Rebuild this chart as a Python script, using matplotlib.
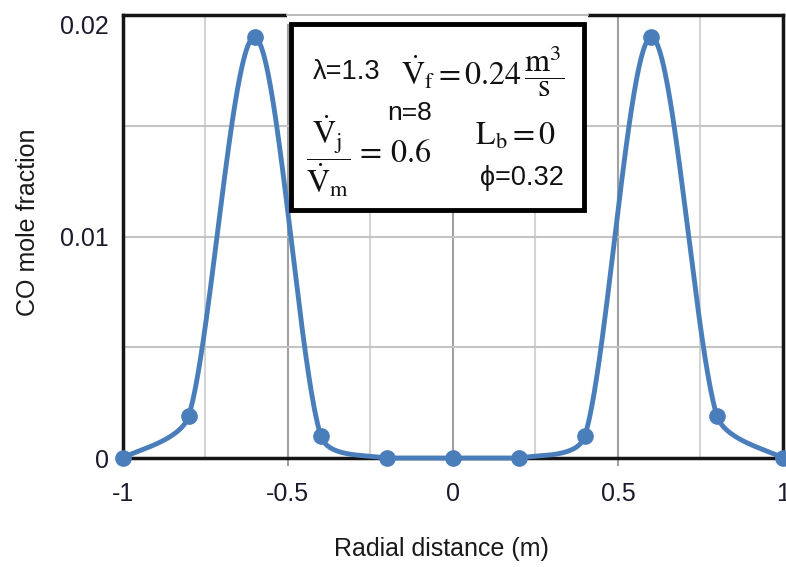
import numpy as np
import matplotlib
matplotlib.use("Agg")
import matplotlib.pyplot as plt
from matplotlib.patches import Rectangle
from matplotlib.lines import Line2D
from matplotlib.ticker import FixedLocator, FixedFormatter

plt.rcParams['font.family'] = ['Liberation Sans', 'DejaVu Sans']
plt.rcParams['mathtext.fontset'] = 'stix'
plt.rcParams['axes.unicode_minus'] = False

# CO mole fraction across the radial profile
radial_distance = [-1.0, -0.8, -0.6, -0.4, -0.2, 0.0, 0.2, 0.4, 0.6, 0.8, 1.0]
co_fraction = [0.0, 0.0019, 0.0190, 0.0010, 0.0, 0.0, 0.0, 0.0010, 0.0190, 0.0019, 0.0]

x_ticks = [-1, -0.5, 0, 0.5, 1]
x_tick_labels = ['-1', '-0.5', '0', '0.5', '1']
x_minor_ticks = [-0.75, -0.25, 0.25, 0.75]
y_ticks = [0, 0.01, 0.02]
y_tick_labels = ['0', '0.01', '0.02']
y_minor_ticks = [0.005, 0.015]

LINE_COLOR = '#4a7ebb'
W, H = 786, 567


def fx(px):
    return px / W


def fy(py):
    return 1 - py / H


fig = plt.figure(figsize=(W / 100, H / 100), dpi=100)
ax = fig.add_axes([fx(122.7), fy(458), (783 - 122.7) / W, (458 - 15) / H])
ax.set_xlim(-1, 1)
ax.set_ylim(0, 0.02)


def smooth_curve(ax, xs, ys, n=80):
    """Bezier smoothing through the points (display space), handles limited by chord."""
    pts = ax.transData.transform(np.column_stack([xs, ys]))
    m = len(pts)
    pieces = [pts[:1]]
    t = np.linspace(0, 1, n)[1:, None]
    for i in range(m - 1):
        p0 = pts[i - 1] if i > 0 else pts[i]
        p1, p2 = pts[i], pts[i + 1]
        p3 = pts[i + 2] if i + 2 < m else pts[i + 1]
        chord = np.hypot(*(p2 - p1))
        h1 = (p2 - p0) / 6.0
        h2 = (p3 - p1) / 6.0
        for h in (h1, h2):
            L = np.hypot(*h)
            if L > chord / 3.0:
                h *= (chord / 3.0) / L
        c1 = p1 + h1
        c2 = p2 - h2
        seg = ((1 - t) ** 3) * p1 + 3 * ((1 - t) ** 2) * t * c1 \
            + 3 * (1 - t) * (t ** 2) * c2 + (t ** 3) * p2
        pieces.append(seg)
    path = np.vstack(pieces)
    data = ax.transData.inverted().transform(path)
    return data[:, 0], np.maximum(data[:, 1], ax.get_ylim()[0])


sx, sy = smooth_curve(ax, radial_distance, co_fraction)
ax.plot(sx, sy, color=LINE_COLOR, lw=3.5, solid_capstyle='round',
        zorder=3, clip_on=False)
ax.plot(radial_distance, co_fraction, 'o', color=LINE_COLOR, ms=11,
        mec=LINE_COLOR, zorder=4, clip_on=False)

# ticks and grid
ax.xaxis.set_major_locator(FixedLocator(x_ticks))
ax.xaxis.set_major_formatter(FixedFormatter(x_tick_labels))
ax.xaxis.set_minor_locator(FixedLocator(x_minor_ticks))
ax.yaxis.set_major_locator(FixedLocator(y_ticks))
ax.yaxis.set_major_formatter(FixedFormatter(y_tick_labels))
ax.yaxis.set_minor_locator(FixedLocator(y_minor_ticks))

ax.tick_params(axis='x', which='major', direction='out', length=6, width=1.5,
               color='#a0a0a0', pad=11, labelsize=18, labelcolor='#1a1a2a')
ax.tick_params(axis='x', which='minor', length=0)
ax.tick_params(axis='y', which='both', length=0, pad=10, labelsize=18,
               labelcolor='#1a1a2a')

ax.grid(True, axis='x', which='major', color='#a0a0a0', lw=1.5)
ax.grid(True, axis='x', which='minor', color='#d4d4d4', lw=1.5)
ax.grid(True, axis='y', which='both', color='#c4c4c4', lw=1.5)
ax.set_axisbelow(True)

for side in ('left', 'right', 'top', 'bottom'):
    ax.spines[side].set_color('#151515')
    ax.spines[side].set_linewidth(2.5)

ax.get_yticklabels()[-1].set_verticalalignment('top')

# axis titles
fig.text(fx(28), fy(222), 'CO mole fraction', rotation=90, ha='center',
         va='center', fontsize=18, color='#1a1a1a')
fig.text(fx(441), fy(549), 'Radial distance (m)', ha='center', va='center',
         fontsize=18, color='#1a1a1a')

# parameter box
backing = Rectangle((fx(287), fy(24)), fx(588) - fx(287), fy(11) - fy(24),
                    transform=fig.transFigure, fc='white', ec='none', zorder=9)
fig.add_artist(backing)
fig.add_artist(Line2D([fx(287), fx(588)], [fy(14.5), fy(14.5)],
                      transform=fig.transFigure, color='#b4b4b4', lw=1.3,
                      zorder=9.5))
box = Rectangle((fx(290.8), fy(209.8)), fx(583.5) - fx(290.8),
                fy(24.2) - fy(209.8), transform=fig.transFigure,
                fc='white', ec='black', lw=3.5, zorder=10)
fig.add_artist(box)

txt = dict(transform=fig.transFigure, zorder=11, color='#111111')
fig.text(fx(313), fy(72), 'λ=1.3', ha='left', va='center', fontsize=19.5, **txt)
fig.text(fx(401), fy(71),
         r'$\dot{\mathrm{V}}_{\mathrm{f}}=0.24\,\dfrac{\mathrm{m}^{3}}{\mathrm{s}}$',
         ha='left', va='center', fontsize=23, **txt)
fig.text(fx(387), fy(113), 'n=8', ha='left', va='center', fontsize=19, **txt)
fig.text(fx(306), fy(156),
         r'$\dfrac{\dot{\mathrm{V}}_{\mathrm{j}}}{\dot{\mathrm{V}}_{\mathrm{m}}}$',
         ha='left', va='center', fontsize=23, **txt)
fig.text(fx(355), fy(154), r'$=\,0.6$', ha='left', va='center', fontsize=23,
         **txt)
fig.text(fx(475), fy(137), r'$\mathrm{L}_{\mathrm{b}}=0$', ha='left',
         va='center', fontsize=23, **txt)
fig.text(fx(480), fy(178), 'ϕ=0.32', ha='left', va='center',
         fontsize=19.5, **txt)

fig.savefig('out.png', dpi=100)
